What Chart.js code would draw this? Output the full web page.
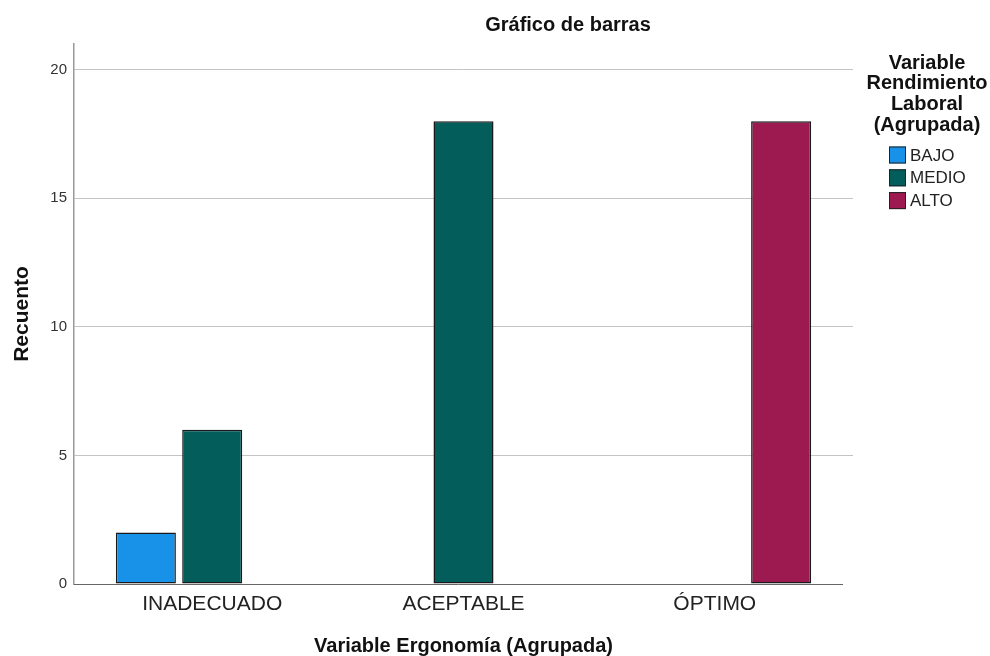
<!DOCTYPE html>
<html>
<head>
<meta charset="utf-8">
<script src="https://cdn.jsdelivr.net/npm/chart.js@4/dist/chart.umd.min.js"></script>
<style>
    body { margin: 0; background: #fff; }
    #wrap { width: 990px; height: 656px; position: relative; }
</style>
</head>
<body>
<div id="wrap"><canvas id="chart"></canvas></div>
<script>
// values
let categories = ["INADECUADO", "ACEPTABLE", "ÓPTIMO"];
let bajo  = [2, null, null];
let medio = [6, 18, null];
let alto  = [null, null, 18];
let seriesNames = ["BAJO", "MEDIO", "ALTO"];
let yTicks = [0, 5, 10, 15, 20];

let chartTitle = "Gráfico de barras";
let legendTitle = ["Variable", "Rendimiento", "Laboral", "(Agrupada)"];
let xTitle = "Variable Ergonomía (Agrupada)";
let yTitle = "Recuento";

let colors = ["#1792e8", "#035d5b", "#9c1a4f"];

function toPoints(arr) {
    return arr.map((v, i) => ({x: i, y: v}));
}

// title, x axis line and the legend box on the right
let extras = {
    id: "extras",
    afterDraw(chart) {
        let ctx = chart.ctx;
        let area = chart.chartArea;
        ctx.save();

        // x axis line (stops a bit short of the grid, like the original)
        ctx.strokeStyle = "#666";
        ctx.lineWidth = 1;
        ctx.beginPath();
        ctx.moveTo(area.left, area.bottom + 0.5);
        ctx.lineTo(area.right - 10, area.bottom + 0.5);
        ctx.stroke();

        ctx.fillStyle = "#111";
        ctx.textAlign = "center";
        ctx.textBaseline = "middle";
        ctx.font = "bold 20px 'Liberation Sans', Arial, sans-serif";
        ctx.fillText(chartTitle, 568, 25);

        legendTitle.forEach((line, i) => {
            ctx.fillText(line, 927, 63 + i * 20.7);
        });

        ctx.textAlign = "left";
        ctx.font = "17px 'Liberation Sans', Arial, sans-serif";
        chart.data.datasets.forEach((ds, i) => {
            let cy = 155 + i * 22.8;
            ctx.fillStyle = ds.backgroundColor;
            ctx.fillRect(889, cy - 8.5, 17, 17);
            ctx.strokeStyle = "#222";
            ctx.strokeRect(889.5, cy - 8, 16, 16);
            ctx.fillStyle = "#222";
            ctx.fillText(ds.label, 910, cy + 1);
        });
        ctx.restore();
    }
};

new Chart("chart", {
    type: "bar",
    data: {
        datasets: [
            {label: seriesNames[0], data: toPoints(bajo), backgroundColor: colors[0]},
            {label: seriesNames[1], data: toPoints(medio), backgroundColor: colors[1]},
            {label: seriesNames[2], data: toPoints(alto), backgroundColor: colors[2]}
        ].map(ds => Object.assign(ds, {
            borderColor: "#1a1a1a",
            borderWidth: 1.5,
            borderSkipped: false,
            categoryPercentage: 0.792,
            barPercentage: 0.905
        }))
    },
    options: {
        responsive: true,
        maintainAspectRatio: false,
        animation: false,
        layout: {padding: {top: 44, right: 137, bottom: 0, left: 0}},
        plugins: {
            legend: {display: false},
            tooltip: {enabled: false}
        },
        scales: {
            x: {
                type: "linear",
                offset: false,
                min: -0.55,
                max: 2.55,
                afterBuildTicks: s => { s.ticks = categories.map((c, i) => ({value: i})); },
                afterFit: s => { s.height = 72; },
                grid: {display: false, drawTicks: false},
                border: {display: false},
                ticks: {
                    autoSkip: false,
                    maxRotation: 0,
                    padding: 8,
                    color: "#222",
                    font: {family: "'Liberation Sans', Arial, sans-serif", size: 21},
                    callback: v => categories[v]
                },
                title: {
                    display: true,
                    text: xTitle,
                    color: "#111",
                    padding: {top: 0, bottom: 0},
                    font: {family: "'Liberation Sans', Arial, sans-serif", size: 20, weight: "bold", lineHeight: 1}
                }
            },
            y: {
                min: 0,
                max: 21,
                afterBuildTicks: s => { s.ticks = yTicks.map(v => ({value: v})); },
                afterFit: s => { s.width = 74; },
                grid: {
                    drawTicks: false,
                    color: c => c.tick && c.tick.value === 0 ? "rgba(0,0,0,0)" : "#c4c4c4",
                    lineWidth: 1
                },
                border: {display: true, color: "#999", width: 1.5},
                ticks: {
                    padding: 7,
                    color: "#333",
                    font: {family: "'Liberation Sans', Arial, sans-serif", size: 15}
                },
                title: {
                    display: true,
                    text: yTitle,
                    color: "#111",
                    padding: {top: 10, bottom: 0},
                    font: {family: "'Liberation Sans', Arial, sans-serif", size: 21, weight: "bold"}
                }
            }
        }
    },
    plugins: [extras]
});
</script>
</body>
</html>
